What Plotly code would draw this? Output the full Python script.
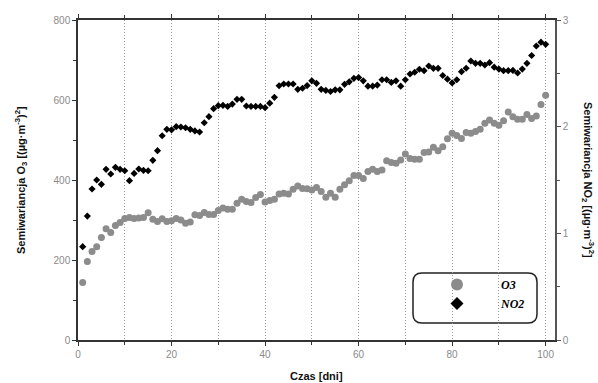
import plotly.graph_objects as go

days = list(range(1, 101))

o3 = [144, 196, 221, 233, 256, 278, 269, 286, 294, 304,
      306, 304, 305, 306, 318, 302, 296, 303, 296, 298,
      304, 300, 292, 295, 313, 311, 319, 314, 314, 324,
      330, 327, 327, 342, 352, 346, 344, 356, 364, 345,
      349, 352, 365, 367, 365, 377, 385, 379, 378, 375,
      381, 371, 357, 367, 357, 377, 388, 398, 411, 411,
      404, 421, 427, 421, 425, 448, 444, 442, 450, 465,
      454, 452, 452, 469, 470, 482, 473, 483, 503, 517,
      511, 504, 519, 517, 521, 527, 542, 550, 542, 537,
      548, 570, 558, 552, 552, 564, 554, 560, 589, 612]

no2 = [0.875, 1.162, 1.416, 1.50, 1.459, 1.60, 1.556, 1.619, 1.60, 1.587,
       1.494, 1.562, 1.603, 1.59, 1.587, 1.684, 1.775, 1.915, 1.975, 1.97,
       2.00, 1.997, 1.99, 1.975, 1.96, 1.95, 2.037, 2.094, 2.169, 2.197,
       2.20, 2.19, 2.212, 2.256, 2.256, 2.194, 2.19, 2.19, 2.19, 2.178,
       2.22, 2.275, 2.384, 2.40, 2.40, 2.40, 2.35, 2.36, 2.385, 2.43,
       2.406, 2.35, 2.34, 2.33, 2.345, 2.345, 2.397, 2.42, 2.453, 2.46,
       2.43, 2.38, 2.38, 2.39, 2.44, 2.44, 2.415, 2.43, 2.38, 2.44,
       2.494, 2.51, 2.538, 2.525, 2.569, 2.547, 2.547, 2.48, 2.445, 2.41,
       2.44, 2.516, 2.548, 2.616, 2.594, 2.594, 2.578, 2.60, 2.558, 2.54,
       2.525, 2.525, 2.527, 2.503, 2.54, 2.594, 2.667, 2.756, 2.792, 2.772]

x_ticks = [0, 20, 40, 60, 80, 100]
y_left_ticks = [0, 200, 400, 600, 800]
y_right_ticks = [0, 1, 2, 3]

W, H = 598, 383
L, R, T, B = 78, 43, 20, 43
PW, PH = W - L - R, H - T - B

TICKFONT = dict(family="Liberation Sans, Arial", size=10, color="#8a8a8a")
TITLEFONT = dict(family="Liberation Sans, Arial", size=11, color="#111")
GRIDDASH = "1px,2px"

PAD = "\u00a0" * 8

fig = go.Figure()
fig.add_trace(go.Scatter(x=days, y=o3, mode="markers", name="O3", showlegend=False,
                         marker=dict(symbol="circle", size=7, color="#8c8c8c")))
fig.add_trace(go.Scatter(x=days, y=no2, mode="markers", name="NO2", yaxis="y2", showlegend=False,
                         marker=dict(symbol="diamond", size=5.5, color="#000000")))
# legend-only entries (larger symbols as in the reference legend)
fig.add_trace(go.Scatter(x=[None], y=[None], mode="markers", name=PAD + "<b><i>O3</i></b>",
                         marker=dict(symbol="circle", size=12, color="#8c8c8c")))
fig.add_trace(go.Scatter(x=[None], y=[None], mode="markers", name=PAD + "<b><i>NO2</i></b>",
                         marker=dict(symbol="diamond", size=10, color="#000000")))

axis_common = dict(showline=True, linecolor="#333", linewidth=1.5, ticks="outside",
                   ticklen=4, tickcolor="#333", tickwidth=1, tickfont=TICKFONT, zeroline=False)

fig.update_layout(
    width=W, height=H,
    margin=dict(l=L, r=R, t=T, b=B),
    paper_bgcolor="white", plot_bgcolor="white",
    xaxis=dict(range=[0, 102], tickvals=x_ticks, mirror="ticks",
               showgrid=True, gridcolor="#9a9a9a", griddash=GRIDDASH, gridwidth=1,
               minor=dict(dtick=10, tick0=0, ticks="outside", ticklen=3, tickcolor="#333",
                          showgrid=True, gridcolor="#9a9a9a", griddash=GRIDDASH, gridwidth=1),
               **axis_common),
    yaxis=dict(range=[0, 800], tickvals=y_left_ticks, showgrid=False,
               minor=dict(dtick=100, tick0=0, ticks="outside", ticklen=3, tickcolor="#333"),
               **axis_common),
    yaxis2=dict(range=[0, 3], tickvals=y_right_ticks, overlaying="y", side="right",
                showgrid=False, showline=True, linecolor="#555", linewidth=1.5,
                ticks="outside", ticklen=4, tickcolor="#555", tickfont=TICKFONT, zeroline=False,
                minor=dict(dtick=0.5, tick0=0, ticks="outside", ticklen=3, tickcolor="#555")),
    legend=dict(x=(437 - L) / PW, y=(340 - 270) / PH, xanchor="left", yanchor="top",
                bgcolor="rgba(0,0,0,0)", borderwidth=0, tracegroupgap=0,
                font=dict(family="Liberation Serif, Times New Roman", size=12, color="#000")),
)

def px_x(p):
    return (p - L) / PW

def px_y(p):
    return (H - B - p) / PH

# rounded legend frame
x0, x1, y0, y1, r = 413, 537, 273, 323, 9
path = (f"M {px_x(x0 + r)},{px_y(y0)} L {px_x(x1 - r)},{px_y(y0)} "
        f"Q {px_x(x1)},{px_y(y0)} {px_x(x1)},{px_y(y0 + r)} "
        f"L {px_x(x1)},{px_y(y1 - r)} Q {px_x(x1)},{px_y(y1)} {px_x(x1 - r)},{px_y(y1)} "
        f"L {px_x(x0 + r)},{px_y(y1)} Q {px_x(x0)},{px_y(y1)} {px_x(x0)},{px_y(y1 - r)} "
        f"L {px_x(x0)},{px_y(y0 + r)} Q {px_x(x0)},{px_y(y0)} {px_x(x0 + r)},{px_y(y0)} Z")
fig.add_shape(type="path", path=path, xref="paper", yref="paper",
              line=dict(color="#222", width=1.5), fillcolor="white", layer="below")

fig.add_annotation(text="<b>Semiwariancja O<sub>3</sub> [(µg·m<sup>-3</sup>)<sup>2</sup>]</b>",
                   xref="paper", yref="paper", x=px_x(21), y=0.5, textangle=-90,
                   showarrow=False, font=TITLEFONT, xanchor="center", yanchor="middle")
fig.add_annotation(text="<b>Semiwariancja NO<sub>2</sub> [(µg·m<sup>-3</sup>)<sup>2</sup>]</b>",
                   xref="paper", yref="paper", x=px_x(588), y=0.5, textangle=90,
                   showarrow=False, font=TITLEFONT, xanchor="center", yanchor="middle")
fig.add_annotation(text="<b>Czas [dni]</b>", xref="paper", yref="paper",
                   x=0.5, y=px_y(376), showarrow=False, font=TITLEFONT,
                   xanchor="center", yanchor="middle")

fig.write_html("out.html")
